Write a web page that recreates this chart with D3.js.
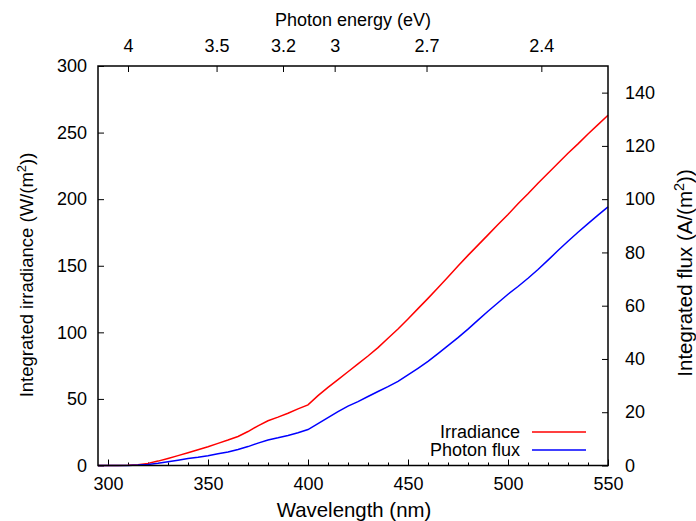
<!DOCTYPE html>
<html>
<head>
<meta charset="utf-8">
<script src="https://cdn.jsdelivr.net/npm/d3@7"></script>
<style>
  body { margin: 0; background: #fff; }
  svg { font-family: "Liberation Sans", Arial, sans-serif; }
  .axis text { font-size: 18px; fill: #000; }
  .axis line { stroke: #000; stroke-width: 1; }
  .axis .domain { display: none; }
  .label-text { font-size: 18px; fill: #000; }
  .line { fill: none; stroke-width: 1.5; }
</style>
</head>
<body>
<script>
var margin = {top: 66, right: 88, bottom: 55.5, left: 98}
    , width = 696 - margin.left - margin.right
    , height = 521 - margin.top - margin.bottom;

// wavelength in nm
var wavelengths = [295, 300, 305, 310, 315, 320, 325, 330, 335, 340, 345, 350, 355, 360, 365, 370,
    375, 380, 385, 390, 395, 400, 405, 410, 415, 420, 425, 430, 435, 440, 445, 450, 455, 460,
    465, 470, 475, 480, 485, 490, 495, 500, 505, 510, 515, 520, 525, 530, 535, 540, 545, 550];
// integrated irradiance W/m^2 (left axis)
var irradiance = [0, 0, 0, 0.1, 0.6, 1.6, 3.3, 5.3, 7.4, 9.6, 11.8, 14.1, 16.6, 19.1, 21.8, 25.5,
    29.8, 33.6, 36.3, 39.2, 42.5, 45.5, 52.5, 58.7, 64.5, 70.4, 76.3, 82.2, 88.5, 95.5, 102.5, 110,
    117.8, 125.5, 133.5, 141.5, 149.8, 157.8, 165.5, 173.2, 181, 188.5, 196.5, 204, 212, 219.5,
    227, 234.5, 241.5, 249, 256, 263];
// integrated photon flux A/m^2 (right axis)
var photonFlux = [0, 0, 0, 0, 0.15, 0.4, 0.85, 1.4, 2.0, 2.6, 3.1, 3.7, 4.4, 5.1, 6.0, 7.1,
    8.4, 9.6, 10.4, 11.3, 12.3, 13.5, 15.7, 18.0, 20.2, 22.3, 24.0, 25.9, 27.8, 29.6, 31.6, 34.0,
    36.5, 39.1, 42.0, 45.0, 48.0, 51.2, 54.6, 57.9, 61.1, 64.3, 67.2, 70.3, 73.6, 77.1,
    80.7, 84.2, 87.6, 90.8, 94.0, 97.1];

var xTicks = [300, 350, 400, 450, 500, 550];
var xMinorTicks = d3.range(300, 551, 10);
var leftTicks = [0, 50, 100, 150, 200, 250, 300];
var rightTicks = [0, 20, 40, 60, 80, 100, 120, 140];
var energyTicks = [4, 3.5, 3.2, 3, 2.7, 2.4];

var series = [
    {name: "Irradiance", color: "#ff0000", values: irradiance, axis: "left"},
    {name: "Photon flux", color: "#0000ff", values: photonFlux, axis: "right"}
];

var xScale = d3.scaleLinear().domain([295, 550]).range([0, width]);
var yLeft = d3.scaleLinear().domain([0, 300]).range([height, 0]);
var yRight = d3.scaleLinear().domain([0, 150]).range([height, 0]);

var svg = d3.select("body").append("svg")
    .attr("width", width + margin.left + margin.right)
    .attr("height", height + margin.top + margin.bottom)
    .append("g")
    .attr("transform", "translate(" + margin.left + "," + margin.top + ")");

// minor ticks on the bottom
svg.append("g")
    .attr("class", "axis")
    .attr("transform", "translate(0," + height + ")")
    .call(d3.axisBottom(xScale).tickValues(xMinorTicks).tickSize(-3).tickFormat(""));

svg.append("g")
    .attr("class", "axis")
    .attr("transform", "translate(0," + height + ")")
    .call(d3.axisBottom(xScale).tickValues(xTicks).tickSize(-6).tickPadding(12).tickFormat(d3.format("d")));

svg.append("g")
    .attr("class", "axis")
    .call(d3.axisLeft(yLeft).tickValues(leftTicks).tickSize(-6).tickPadding(11).tickFormat(d3.format("d")));

svg.append("g")
    .attr("class", "axis")
    .attr("transform", "translate(" + width + ",0)")
    .call(d3.axisRight(yRight).tickValues(rightTicks).tickSize(-6).tickPadding(17).tickFormat(d3.format("d")));

// top axis: photon energy, placed at lambda = 1240 / E
var energyScale = function(e) { return xScale(1240 / e); };
energyScale.copy = function() { return energyScale; };
energyScale.range = function() { return xScale.range(); };
energyScale.domain = function() { return energyTicks; };
svg.append("g")
    .attr("class", "axis")
    .call(d3.axisTop(energyScale).tickValues(energyTicks).tickSize(-6).tickPadding(14).tickFormat(function(d) { return d; }));

var line = function(values, y) {
    return d3.line()
        .x(function(d, i) { return xScale(wavelengths[i]); })
        .y(function(d) { return y(d); })(values);
};

svg.selectAll(".line")
    .data(series)
    .enter()
    .append("path")
    .attr("class", "line")
    .attr("d", function(d) { return line(d.values, d.axis == "left" ? yLeft : yRight); })
    .attr("stroke", function(d) { return d.color; });

svg.append("rect")
    .attr("width", width)
    .attr("height", height)
    .attr("fill", "none")
    .attr("stroke", "#000")
    .attr("stroke-width", 1.5);

// legend
var legend = svg.selectAll(".legend")
    .data(series)
    .enter()
    .append("g")
    .attr("transform", function(d, i) { return "translate(0," + (366 + i * 18) + ")"; });

legend.append("text")
    .attr("class", "label-text")
    .attr("x", 422)
    .attr("y", 6)
    .attr("text-anchor", "end")
    .text(function(d) { return d.name; });

legend.append("line")
    .attr("x1", 434)
    .attr("x2", 488)
    .attr("stroke", function(d) { return d.color; })
    .attr("stroke-width", 1.5);

// axis titles
svg.append("text")
    .attr("class", "label-text")
    .attr("x", width / 2 + 1)
    .attr("y", height + 51.5)
    .attr("text-anchor", "middle")
    .style("font-size", "20.4px")
    .text("Wavelength (nm)");

svg.append("text")
    .attr("class", "label-text")
    .attr("x", width / 2)
    .attr("y", -40)
    .attr("text-anchor", "middle")
    .text("Photon energy (eV)");

var leftTitle = svg.append("text")
    .attr("class", "label-text")
    .attr("transform", "rotate(-90)")
    .attr("x", -209)
    .attr("y", -65)
    .attr("text-anchor", "middle")
    .style("font-size", "18.5px");
leftTitle.append("tspan").text("Integrated irradiance (W/(m");
leftTitle.append("tspan").attr("dy", -7).attr("font-size", 13).text("2");
leftTitle.append("tspan").attr("dy", 7).text("))");

var rightTitle = svg.append("text")
    .attr("class", "label-text")
    .attr("transform", "rotate(-90)")
    .attr("x", -207)
    .attr("y", width + 84)
    .attr("text-anchor", "middle")
    .style("font-size", "20.5px");
rightTitle.append("tspan").text("Integrated flux (A/(m");
rightTitle.append("tspan").attr("dy", -8).attr("font-size", 14.5).text("2");
rightTitle.append("tspan").attr("dy", 8).text("))");
</script>
</body>
</html>
